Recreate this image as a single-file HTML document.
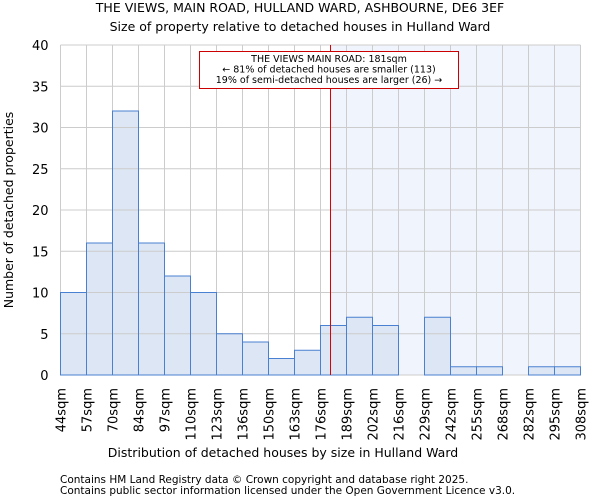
<!DOCTYPE html>
<html><head><meta charset="utf-8"><style>
body{margin:0;background:#fff;font-family:"DejaVu Sans","Liberation Sans",sans-serif}
svg text{font-family:"DejaVu Sans","Liberation Sans",sans-serif;fill:#000}
</style></head><body>
<svg id="c" width="600" height="500">
<text x="300" y="12" font-size="12.5" text-anchor="middle">THE VIEWS, MAIN ROAD, HULLAND WARD, ASHBOURNE, DE6 3EF</text>
<text x="300" y="31" font-size="12.5" text-anchor="middle">Size of property relative to detached houses in Hulland Ward</text>
<g id="plot"></g>
<text x="283" y="457" font-size="12.5" text-anchor="middle">Distribution of detached houses by size in Hulland Ward</text>
<text transform="translate(13,210) rotate(-90)" font-size="12.5" text-anchor="middle">Number of detached properties</text>
<text x="60" y="483" font-size="10.5" fill="#333">Contains HM Land Registry data © Crown copyright and database right 2025.</text>
<text x="60" y="494" font-size="10.5" fill="#333">Contains public sector information licensed under the Open Government Licence v3.0.</text>
</svg>
<script>
const categories=["44sqm","57sqm","70sqm","84sqm","97sqm","110sqm","123sqm","136sqm","150sqm","163sqm","176sqm","189sqm","202sqm","216sqm","229sqm","242sqm","255sqm","268sqm","282sqm","295sqm","308sqm"];
const counts=[10,16,32,16,12,10,5,4,2,3,6,7,6,0,7,1,1,0,1,1];
const yTicks=[0,5,10,15,20,25,30,35,40];
const binStarts=[44,57,70,84,97,110,123,136,150,163,176,189,202,216,229,242,255,268,282,295,308];
const propertySize=181;
const L=60.5,R=580.5,T=45,B=375,N=counts.length;
const bw=(R-L)/N;
const x=i=>L+i*bw;
const y=v=>B-v/40*(B-T);
function sizeX(s){for(let i=0;i<N;i++){if(s>=binStarts[i]&&s<binStarts[i+1])return x(i)+(s-binStarts[i])/(binStarts[i+1]-binStarts[i])*bw;}return R;}
const NS="http://www.w3.org/2000/svg",g=document.getElementById('plot');
function el(t,a){const e=document.createElementNS(NS,t);for(const k in a)e.setAttribute(k,a[k]);g.appendChild(e);return e;}
const rx=sizeX(propertySize);
let sh=el('rect',{x:rx,y:T,width:R-rx,height:B-T,fill:'#f0f4fd'});


counts.forEach((v,i)=>{const r=el('rect',{x:x(i),y:y(v),width:bw,height:B-y(v),fill:'#dce6f4'});

});
for(let i=0;i<=N;i++){const l=el('line',{x1:x(i),x2:x(i),y1:T,y2:B,stroke:'#ccc','stroke-width':1});

}
yTicks.forEach(t=>{const l=el('line',{x1:L,x2:R,y1:y(t),y2:y(t),stroke:'#ccc','stroke-width':1});


const tx=el('text',{x:L-12,y:y(t)+5,'font-size':13,'text-anchor':'end'});tx.textContent=t;

});
counts.forEach((v,i)=>{if(v>0){const r=el('rect',{x:x(i),y:y(v),width:bw,height:B-y(v),fill:'none',stroke:'#4a80d2','stroke-width':1});

}});
categories.forEach((c,i)=>{const tx=el('text',{transform:`translate(${x(i)+5},388) rotate(-90)`,'font-size':13,'text-anchor':'end'});tx.textContent=c;

});
const rl=el('line',{x1:rx,x2:rx,y1:T,y2:B,stroke:'#d00','stroke-width':1});


const bx=el('rect',{x:199.5,y:51.5,width:259,height:37,fill:'#fff',stroke:'#c00','stroke-width':1});


["THE VIEWS MAIN ROAD: 181sqm","← 81% of detached houses are smaller (113)","19% of semi-detached houses are larger (26) →"].forEach((s,k)=>{const t=el('text',{x:329,y:62+k*10.5,'font-size':9.5,'text-anchor':'middle'});t.textContent=s;

});
</script>
</body></html>
